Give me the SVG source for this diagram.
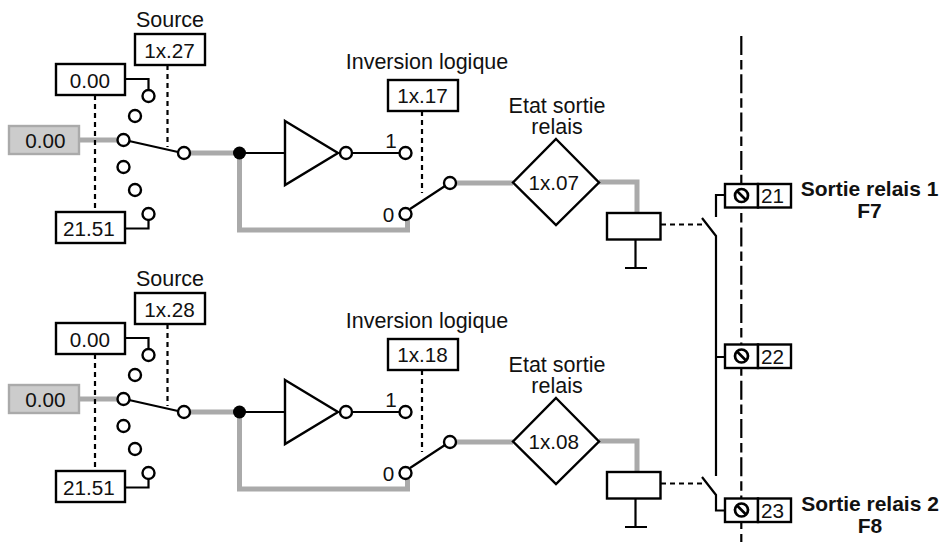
<svg xmlns="http://www.w3.org/2000/svg" width="943" height="542" viewBox="0 0 943 542">
<style>
text{font-family:"Liberation Sans",Arial,sans-serif;font-size:20.7px;fill:#111;text-anchor:middle}
.cap{font-size:21.5px}
.b{font-weight:bold;font-size:21px}
.box{fill:#fff;stroke:#000;stroke-width:2.4}
.in{fill:#ccc;stroke:#aaa;stroke-width:2.4}
.c{fill:#fff;stroke:#000;stroke-width:2.4}
.w{fill:none;stroke:#000;stroke-width:2.2}
.s{fill:none;stroke:#000;stroke-width:2.7}
.g{fill:none;stroke:#aaa;stroke-width:5}
.d{fill:none;stroke:#000;stroke-width:2.2;stroke-dasharray:5 4}
.dd{fill:none;stroke:#000;stroke-width:2.2;stroke-dasharray:19 4.9 9.5 4.9}
</style>
<g id="connectors">
<path class="dd" d="M741.3 36V570"/>
<path class="g" d="M79 140H118M190 153H239.5V230H407.500V220M456 183H513M599 182H637V213"/>
<path class="d" d="M95 95V212M167.500 65V147M422 111V193M661 224.500H704"/>
<path class="w" d="M125 79H148.500V90M125 228.500H148.500V220M129 141L178 152M239 153H285M352 153H400M410 209L445 186M635.500 239V268M625 268H647M702 218L716 236V476M716 217V195H725M716 357H725"/>
<path class="g" d="M79 399H118M190 412H239.500V489H407.500V479M456 442H513M599 441H637V472"/>
<path class="d" d="M95 354V471M167.500 324V406M422 370V452M661 483.500H704"/>
<path class="w" d="M125 338H148.500V349M125 487.500H148.500V479M129 400L178 411M239 412H285M352 412H400M410 468L445 445M635.500 498V527M625 527H647M702 477L716 495V510.500H725"/>
</g>
<g id="source1"><text class="cap" x="170" y="26.500">Source</text><rect class="box" x="135" y="34" width="70" height="31"/><text x="169.500" y="57.500">1x.27</text></g>
<g id="min1"><rect class="box" x="56" y="64" width="69" height="31"/><text x="90" y="87.500">0.00</text></g>
<g id="input1"><rect class="in" x="9" y="126" width="70" height="28"/><text x="45.500" y="148">0.00</text></g>
<g id="max1"><rect class="box" x="56" y="212" width="69" height="31"/><text x="89" y="235.500">21.51</text></g>
<g id="selector1">
<circle class="c" cx="148.500" cy="96" r="6"/><circle class="c" cx="135" cy="116" r="6"/><circle class="c" cx="123.500" cy="140" r="6"/><circle class="c" cx="123.500" cy="167" r="6"/><circle class="c" cx="135" cy="190" r="6"/><circle class="c" cx="148.500" cy="214" r="6"/><circle class="c" cx="184" cy="153" r="6"/>
</g>
<g id="junction1"><circle cx="239.500" cy="153" r="6.500"/></g>
<g id="inverter1"><path class="box" d="M285 121L338 153L285 185Z"/><circle class="c" cx="346" cy="153" r="6"/></g>
<g id="logic1"><text class="cap" x="427" y="69">Inversion logique</text><rect class="box" x="388" y="80" width="70" height="31"/><text x="422.500" y="103">1x.17</text>
<text x="391" y="148">1</text><text x="388.500" y="222">0</text>
<circle class="c" cx="405.500" cy="153" r="6"/><circle class="c" cx="405.500" cy="214" r="6"/><circle class="c" cx="450" cy="183" r="6"/></g>
<g id="state1"><text class="cap" x="557" y="112.500">Etat sortie</text><text class="cap" x="557" y="134">relais</text><path class="box" d="M556 139L599 182.500L556 225L513 182.500Z"/><text x="553.700" y="190">1x.07</text></g>
<g id="relay1"><rect class="box" x="607" y="213" width="53.500" height="26.500"/></g>
<g id="t21"><rect class="box" x="725" y="184" width="33" height="23.500"/><rect class="box" x="758" y="184" width="33" height="23.500"/><circle class="s" cx="741.500" cy="195.500" r="6.500"/><path class="s" d="M737 191L746 200"/><text x="772.500" y="203">21</text></g>
<g id="t22"><rect class="box" x="725" y="344.500" width="33" height="23.500"/><rect class="box" x="758" y="344.500" width="33" height="23.500"/><circle class="s" cx="741.500" cy="356" r="6.500"/><path class="s" d="M737 351.500L746 360.500"/><text x="772.500" y="363.500">22</text></g>
<g id="t23"><rect class="box" x="725" y="498.500" width="33" height="23.500"/><rect class="box" x="758" y="498.500" width="33" height="23.500"/><circle class="s" cx="741.500" cy="510" r="6.500"/><path class="s" d="M737 505.500L746 514.500"/><text x="772.500" y="518">23</text></g>
<g id="label1"><text class="b" x="869.500" y="196">Sortie relais 1</text><text class="b" x="869.500" y="218">F7</text></g>
<g id="label2"><text class="b" x="870" y="511">Sortie relais 2</text><text class="b" x="870" y="533">F8</text></g>
<g id="source2"><text class="cap" x="170" y="285.500">Source</text><rect class="box" x="135" y="293" width="70" height="31"/><text x="169.500" y="316.500">1x.28</text></g>
<g id="min2"><rect class="box" x="56" y="323" width="69" height="31"/><text x="90" y="346.500">0.00</text></g>
<g id="input2"><rect class="in" x="9" y="385" width="70" height="28"/><text x="45.500" y="407">0.00</text></g>
<g id="max2"><rect class="box" x="56" y="471" width="69" height="31"/><text x="89" y="494.500">21.51</text></g>
<g id="selector2">
<circle class="c" cx="148.500" cy="355" r="6"/><circle class="c" cx="135" cy="375" r="6"/><circle class="c" cx="123.500" cy="399" r="6"/><circle class="c" cx="123.500" cy="426" r="6"/><circle class="c" cx="135" cy="449" r="6"/><circle class="c" cx="148.500" cy="473" r="6"/><circle class="c" cx="184" cy="412" r="6"/>
</g>
<g id="junction2"><circle cx="239.500" cy="412" r="6.500"/></g>
<g id="inverter2"><path class="box" d="M285 380L338 412L285 444Z"/><circle class="c" cx="346" cy="412" r="6"/></g>
<g id="logic2"><text class="cap" x="427" y="328">Inversion logique</text><rect class="box" x="388" y="339" width="70" height="31"/><text x="422.500" y="362">1x.18</text>
<text x="391" y="407">1</text><text x="388.500" y="481">0</text>
<circle class="c" cx="405.500" cy="412" r="6"/><circle class="c" cx="405.500" cy="473" r="6"/><circle class="c" cx="450" cy="442" r="6"/></g>
<g id="state2"><text class="cap" x="557" y="371.500">Etat sortie</text><text class="cap" x="557" y="393">relais</text><path class="box" d="M556 398L599 441.500L556 484L513 441.500Z"/><text x="553.700" y="449">1x.08</text></g>
<g id="relay2"><rect class="box" x="607" y="472" width="53.500" height="26.500"/></g>
</svg>
